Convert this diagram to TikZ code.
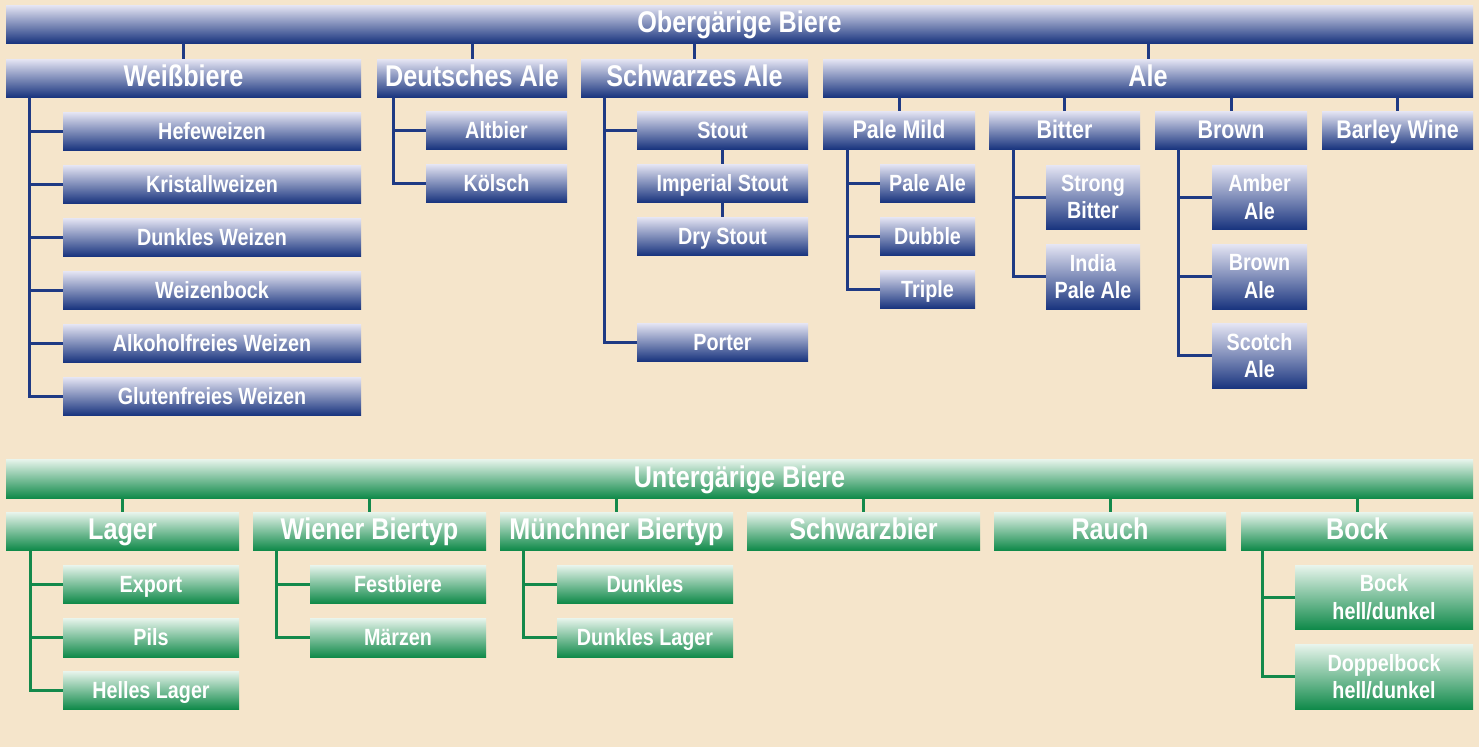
\documentclass[tikz,border=0pt]{standalone}
\usepackage{fontspec}
\newfontfamily\cond{Liberation Sans}[FakeStretch=0.84]
\definecolor{bgwood}{HTML}{F5E5CB}
\definecolor{bTop}{HTML}{E6E6F4}
\definecolor{bMid}{HTML}{8A91C4}
\definecolor{bBot}{HTML}{1A357F}
\definecolor{bLine}{HTML}{1F3A84}
\definecolor{gTop}{HTML}{E9F5ED}
\definecolor{gMid}{HTML}{8BC6A0}
\definecolor{gBot}{HTML}{108A4A}
\definecolor{gLine}{HTML}{13894B}
\tikzset{
  box/.style={inner sep=0pt, text=white, align=center},
  bluebox/.style={box, top color=bTop, middle color=bMid, bottom color=bBot},
  greenbox/.style={box, top color=gTop, middle color=gMid, bottom color=gBot},
  fbig/.style={text height=21.6pt, text depth=4.2pt, font=\cond\bfseries\fontsize{30}{33}\selectfont},
  fmid/.style={text height=19pt, text depth=3pt, font=\cond\bfseries\fontsize{25.5}{28}\selectfont},
  fsmall/.style={text height=19pt, text depth=2.3pt, font=\cond\bfseries\fontsize{23.5}{27.5}\selectfont},
  ftwo/.style={font=\cond\bfseries\fontsize{23.5}{27.5}\selectfont},
  bl/.style={draw=bLine, line width=3pt},
  gl/.style={draw=gLine, line width=3pt},
}
\newcommand\bx[7]{\node[#1, minimum width={(#5-#3)*1pt}, minimum height={(#6-#4)*1pt}] (#2) at ({(#3+#5)/2},{(#4+#6)/2}) {#7};}
\begin{document}
\begin{tikzpicture}[x=1pt,y=-1pt]
\fill[bgwood] (0,0) rectangle (1479,747);
\useasboundingbox (0,0) rectangle (1479,747);
% ---------------- upper (blue) ----------------
\bx{bluebox,fbig}{ober}{6}{5}{1473}{43}{Obergärige Biere}
\bx{bluebox,fbig}{wb}{6}{59}{361}{97}{Weißbiere}
\bx{bluebox,fbig}{da}{377}{59}{567}{97}{Deutsches Ale}
\bx{bluebox,fbig}{sa}{581}{59}{808}{97}{Schwarzes Ale}
\bx{bluebox,fbig}{ale}{823}{59}{1473}{97}{Ale}
% Weissbiere children
\bx{bluebox,fsmall}{hefe}{63}{112}{361}{150}{Hefeweizen}
\bx{bluebox,fsmall}{kris}{63}{165}{361}{203}{Kristallweizen}
\bx{bluebox,fsmall}{dunw}{63}{218}{361}{256}{Dunkles Weizen}
\bx{bluebox,fsmall}{wbock}{63}{271}{361}{309}{Weizenbock}
\bx{bluebox,fsmall}{alkf}{63}{324}{361}{362}{Alkoholfreies Weizen}
\bx{bluebox,fsmall}{glut}{63}{377}{361}{415}{Glutenfreies Weizen}
% Deutsches Ale children
\bx{bluebox,fsmall}{alt}{426}{111}{567}{149}{Altbier}
\bx{bluebox,fsmall}{koel}{426}{164}{567}{202}{Kölsch}
% Schwarzes Ale children
\bx{bluebox,fsmall}{stout}{637}{111}{808}{149}{Stout}
\bx{bluebox,fsmall}{imp}{637}{164}{808}{202}{Imperial Stout}
\bx{bluebox,fsmall}{dry}{637}{217}{808}{255}{Dry Stout}
\bx{bluebox,fsmall}{port}{637}{323}{808}{361}{Porter}
% Ale sub-groups
\bx{bluebox,fmid}{pm}{823}{111}{975}{149}{Pale Mild}
\bx{bluebox,fmid}{bit}{989}{111}{1140}{149}{Bitter}
\bx{bluebox,fmid}{brn}{1155}{111}{1307}{149}{Brown}
\bx{bluebox,fmid}{bw}{1322}{111}{1473}{149}{Barley Wine}
\bx{bluebox,fsmall}{pale}{880}{164}{975}{202}{Pale Ale}
\bx{bluebox,fsmall}{dub}{880}{217}{975}{255}{Dubble}
\bx{bluebox,fsmall}{trip}{880}{270}{975}{308}{Triple}
\bx{bluebox,ftwo}{sbit}{1046}{165}{1140}{229}{Strong\\Bitter}
\bx{bluebox,ftwo}{ipa}{1046}{244}{1140}{309}{India\\Pale Ale}
\bx{bluebox,ftwo}{amb}{1212}{165}{1307}{229}{Amber\\Ale}
\bx{bluebox,ftwo}{bale}{1212}{244}{1307}{309}{Brown\\Ale}
\bx{bluebox,ftwo}{scot}{1212}{323}{1307}{388}{Scotch\\Ale}
% ---------------- lower (green) ----------------
\bx{greenbox,fbig}{unter}{6}{459}{1473}{498}{Untergärige Biere}
\bx{greenbox,fbig}{lag}{6}{512}{239}{550}{Lager}
\bx{greenbox,fbig}{wien}{253}{512}{486}{550}{Wiener Biertyp}
\bx{greenbox,fbig}{muen}{500}{512}{733}{550}{Münchner Biertyp}
\bx{greenbox,fbig}{schw}{747}{512}{980}{550}{Schwarzbier}
\bx{greenbox,fbig}{rauch}{994}{512}{1226}{550}{Rauch}
\bx{greenbox,fbig}{bock}{1241}{512}{1473}{550}{Bock}
\bx{greenbox,fsmall}{exp}{63}{565}{239}{603}{Export}
\bx{greenbox,fsmall}{pils}{63}{618}{239}{657}{Pils}
\bx{greenbox,fsmall}{hell}{63}{671}{239}{709}{Helles Lager}
\bx{greenbox,fsmall}{fest}{310}{565}{486}{603}{Festbiere}
\bx{greenbox,fsmall}{maer}{310}{618}{486}{657}{Märzen}
\bx{greenbox,fsmall}{dunk}{557}{565}{733}{603}{Dunkles}
\bx{greenbox,fsmall}{dunl}{557}{618}{733}{657}{Dunkles Lager}
\bx{greenbox,ftwo}{bhd}{1295}{565}{1473}{629}{Bock\\hell/dunkel}
\bx{greenbox,ftwo}{dbhd}{1295}{644}{1473}{709}{Doppelbock\\hell/dunkel}
% ---------------- connectors ----------------
\foreach \n in {wb,da,sa,ale} \draw[bl] (\n.north) -- (\n.north |- ober.south);
\foreach \n in {hefe,kris,dunw,wbock,alkf,glut} \draw[bl] ([xshift=24pt]wb.south west) |- (\n.west);
\foreach \n in {alt,koel} \draw[bl] ([xshift=17pt]da.south west) |- (\n.west);
\foreach \n in {stout,port} \draw[bl] ([xshift=24pt]sa.south west) |- (\n.west);
\draw[bl] (stout.south) -- (imp.north) (imp.south) -- (dry.north);
\foreach \n in {pm,bit,brn,bw} \draw[bl] (\n.north) -- (\n.north |- ale.south);
\foreach \n in {pale,dub,trip} \draw[bl] ([xshift=25pt]pm.south west) |- (\n.west);
\foreach \n in {sbit,ipa} \draw[bl] ([xshift=25pt]bit.south west) |- (\n.west);
\foreach \n in {amb,bale,scot} \draw[bl] ([xshift=24pt]brn.south west) |- (\n.west);
\foreach \n in {lag,wien,muen,schw,rauch,bock} \draw[gl] (\n.north) -- (\n.north |- unter.south);
\foreach \n in {exp,pils,hell} \draw[gl] ([xshift=25pt]lag.south west) |- (\n.west);
\foreach \n in {fest,maer} \draw[gl] ([xshift=24pt]wien.south west) |- (\n.west);
\foreach \n in {dunk,dunl} \draw[gl] ([xshift=24pt]muen.south west) |- (\n.west);
\foreach \n in {bhd,dbhd} \draw[gl] ([xshift=22pt]bock.south west) |- (\n.west);
\end{tikzpicture}
\end{document}
